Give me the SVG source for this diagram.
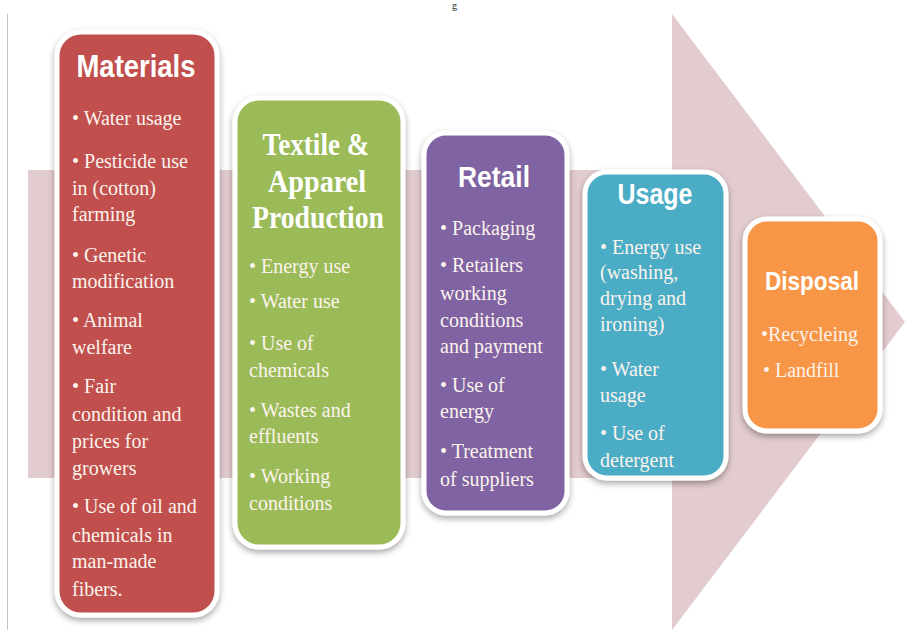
<svg xmlns="http://www.w3.org/2000/svg" width="907" height="630" viewBox="0 0 907 630">
  <defs>
    <filter id="shadow" x="-20%" y="-20%" width="140%" height="140%">
      <feDropShadow dx="0" dy="3" stdDeviation="3" flood-color="#000" flood-opacity="0.35"/>
    </filter>
  </defs>
  <style>
    .box { stroke: #ffffff; stroke-width: 5; filter: url(#shadow); }
    .title { font-family: "Liberation Sans", Arial, sans-serif; font-weight: bold; fill: #ffffff; text-anchor: middle; }
    .stitle { font-family: "Liberation Serif", "Times New Roman", serif; font-weight: bold; font-size: 31px; fill: #ffffff; text-anchor: middle; }
    .item { font-family: "Liberation Serif", "Times New Roman", serif; font-size: 20px; fill: #fbf3ec; }
  </style>

  <rect width="907" height="630" fill="#ffffff"/>

  <!-- caption fragment at the top edge -->
  <text x="452" y="9" font-family="Liberation Serif, serif" font-size="10" fill="#222">g</text>

  <!-- thin frame line on the left -->
  <line x1="7.5" y1="14" x2="7.5" y2="630" stroke="#c4c4c4" stroke-width="1"/>

  <!-- big background arrow -->
  <g id="connectors">
    <path d="M28,170 H672 V14 L905,322 L672,630 V478 H28 Z" fill="#e3cccf"/>
  </g>

  <g id="materials">
    <rect class="box" x="57" y="32" width="160" height="583" rx="24" fill="#c0504d"/>
    <text class="title" x="136" y="77" font-size="32" textLength="119" lengthAdjust="spacingAndGlyphs">Materials</text>
    <g class="item">
      <text x="72" y="125">• Water usage</text>
      <text x="72" y="168">• Pesticide use</text>
      <text x="72" y="195">in (cotton)</text>
      <text x="72" y="221">farming</text>
      <text x="72" y="262">• Genetic</text>
      <text x="72" y="288">modification</text>
      <text x="72" y="327">• Animal</text>
      <text x="72" y="354">welfare</text>
      <text x="72" y="393">• Fair</text>
      <text x="72" y="421">condition and</text>
      <text x="72" y="448">prices for</text>
      <text x="72" y="475">growers</text>
      <text x="72" y="513">• Use of oil and</text>
      <text x="72" y="542">chemicals in</text>
      <text x="72" y="568">man-made</text>
      <text x="72" y="596">fibers.</text>
    </g>
  </g>

  <g id="production">
    <rect class="box" x="235" y="98" width="168" height="449" rx="24" fill="#9bbb59"/>
    <text class="stitle" x="316" y="155" textLength="107" lengthAdjust="spacingAndGlyphs">Textile &amp;</text>
    <text class="stitle" x="317" y="192" textLength="98" lengthAdjust="spacingAndGlyphs">Apparel</text>
    <text class="stitle" x="318" y="228" textLength="132" lengthAdjust="spacingAndGlyphs">Production</text>
    <g class="item">
      <text x="249" y="273">• Energy use</text>
      <text x="249" y="308">• Water use</text>
      <text x="249" y="350">• Use of</text>
      <text x="249" y="377">chemicals</text>
      <text x="249" y="417">• Wastes and</text>
      <text x="249" y="443">effluents</text>
      <text x="249" y="483">• Working</text>
      <text x="249" y="510">conditions</text>
    </g>
  </g>

  <g id="retail">
    <rect class="box" x="424" y="133" width="143" height="380" rx="22" fill="#8064a2"/>
    <text class="title" x="494" y="187" font-size="30" textLength="72" lengthAdjust="spacingAndGlyphs">Retail</text>
    <g class="item">
      <text x="440" y="235">• Packaging</text>
      <text x="440" y="272">• Retailers</text>
      <text x="440" y="300">working</text>
      <text x="440" y="327">conditions</text>
      <text x="440" y="353">and payment</text>
      <text x="440" y="392">• Use of</text>
      <text x="440" y="418">energy</text>
      <text x="440" y="458">• Treatment</text>
      <text x="440" y="486">of suppliers</text>
    </g>
  </g>

  <g id="usage">
    <rect class="box" x="585" y="172" width="141" height="306" rx="22" fill="#4bacc6"/>
    <text class="title" x="655" y="204" font-size="29" textLength="75" lengthAdjust="spacingAndGlyphs">Usage</text>
    <g class="item">
      <text x="600" y="254">• Energy use</text>
      <text x="600" y="279">(washing,</text>
      <text x="600" y="305">drying and</text>
      <text x="600" y="331">ironing)</text>
      <text x="600" y="376">• Water</text>
      <text x="600" y="402">usage</text>
      <text x="600" y="440">• Use of</text>
      <text x="600" y="467">detergent</text>
    </g>
  </g>

  <g id="disposal">
    <rect class="box" x="745" y="219" width="135" height="212" rx="22" fill="#f79646"/>
    <text class="title" x="812" y="290" font-size="26" textLength="94" lengthAdjust="spacingAndGlyphs">Disposal</text>
    <g class="item">
      <text x="761" y="341">•Recycleing</text>
      <text x="763" y="377">• Landfill</text>
    </g>
  </g>
</svg>
